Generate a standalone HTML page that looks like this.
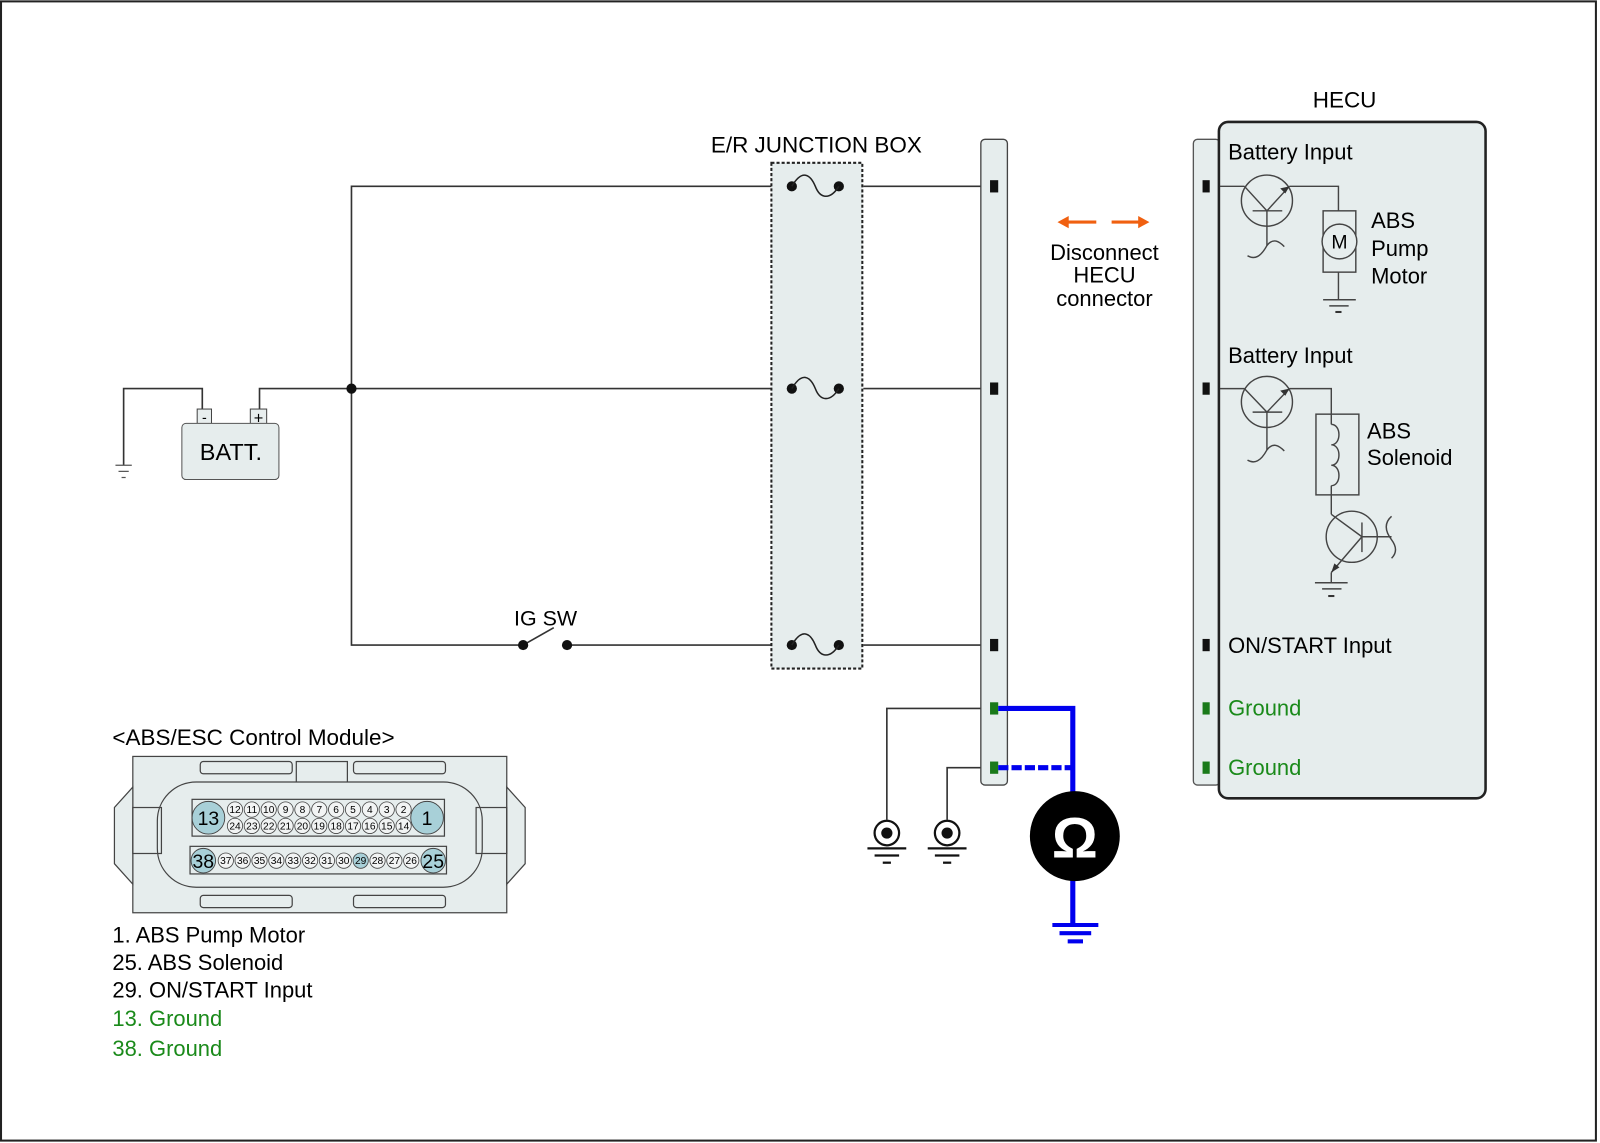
<!DOCTYPE html>
<html><head><meta charset="utf-8"><style>html,body{margin:0;padding:0;background:#fff}svg{display:block}text{font-family:"Liberation Sans",Arial,sans-serif}</style></head><body>
<svg width="1600" height="1143" viewBox="0 0 1566 1118" xmlns="http://www.w3.org/2000/svg">
<rect x="1" y="1" width="1561" height="1115" fill="#fff" stroke="#222" stroke-width="2"/>
<g stroke="#333" stroke-width="1.6" fill="none">
<polyline points="970,182 845,182"/><polyline points="755,182 344,182 344,631 510,631"/>
<polyline points="970,380 845,380"/><polyline points="755,380 254,380 254,400"/>
<polyline points="198,400 198,380 121,380 121,455"/>
<polyline points="555,631 755,631"/><polyline points="845,631 970,631"/>
<line x1="512" y1="631" x2="542" y2="614"/>
<polyline points="970,693 868,693 868,802"/><polyline points="970,751 927,751 927,802"/>
</g>
<g stroke="#555" stroke-width="1.2"><line x1="113" y1="455" x2="129" y2="455"/><line x1="116" y1="461" x2="126" y2="461"/><line x1="119" y1="467" x2="123" y2="467"/></g>
<rect x="193" y="400" width="14" height="15" fill="#e8eeee" stroke="#444"/>
<rect x="245" y="400" width="16" height="15" fill="#e8eeee" stroke="#444"/>
<text x="200" y="413" font-size="14" text-anchor="middle">-</text><text x="253" y="414" font-size="16" text-anchor="middle">+</text>
<rect x="178" y="414" width="95" height="55" rx="4" fill="#e6eded" stroke="#555"/>
<text x="226" y="450" font-size="23" text-anchor="middle">BATT.</text>
<circle cx="344" cy="380" r="5" fill="#111"/>
<circle cx="512" cy="631" r="5" fill="#111"/><circle cx="555" cy="631" r="5" fill="#111"/>
<text x="534" y="612" font-size="21" text-anchor="middle">IG SW</text>
<rect x="755" y="159" width="89" height="495" fill="#e6eded" stroke="#222" stroke-width="2" stroke-dasharray="3,2"/>
<text x="799" y="149" font-size="22" text-anchor="middle">E/R JUNCTION BOX</text>
<g fill="#111">
<circle cx="775" cy="182" r="5"/><circle cx="821" cy="182" r="5"/>
<circle cx="775" cy="380" r="5"/><circle cx="821" cy="380" r="5"/>
<circle cx="775" cy="631" r="5"/><circle cx="821" cy="631" r="5"/></g>
<g stroke="#222" stroke-width="1.5" fill="none">
<path d="M775,182 C785,165 793,170 798,182 C803,195 813,195 821,182"/>
<path d="M775,380 C785,363 793,368 798,380 C803,393 813,393 821,380"/>
<path d="M775,631 C785,614 793,619 798,631 C803,644 813,644 821,631"/>
</g>
<rect x="960" y="136" width="26" height="632" rx="4" fill="#e6eded" stroke="#444" stroke-width="1.3"/>
<g fill="#111"><rect x="969" y="176" width="8" height="12"/><rect x="969" y="374" width="8" height="12"/><rect x="969" y="625" width="8" height="12"/></g>
<g fill="#1a7a1a"><rect x="969" y="687" width="8" height="12"/><rect x="969" y="745" width="8" height="12"/></g>
<g stroke="#111" stroke-width="2.2"><circle cx="868" cy="815" r="12" fill="#fff"/><circle cx="927" cy="815" r="12" fill="#fff"/>
<line x1="849" y1="830" x2="887" y2="830"/><line x1="856" y1="837" x2="880" y2="837"/><line x1="864" y1="844" x2="872" y2="844"/>
<line x1="908" y1="830" x2="946" y2="830"/><line x1="915" y1="837" x2="939" y2="837"/><line x1="923" y1="844" x2="931" y2="844"/></g>
<circle cx="868" cy="815" r="5.5" fill="#111"/><circle cx="927" cy="815" r="5.5" fill="#111"/>
<g stroke="#0000ee" stroke-width="5" fill="none"><polyline points="977,693 1050,693 1050,790"/>
<line x1="977" y1="751" x2="1050" y2="751" stroke-dasharray="10,3"/><line x1="1050" y1="840" x2="1050" y2="905"/>
<line x1="1030" y1="905" x2="1075" y2="905" stroke-width="4"/><line x1="1037" y1="913" x2="1068" y2="913" stroke-width="4"/><line x1="1045" y1="921" x2="1060" y2="921" stroke-width="4"/></g>
<circle cx="1052" cy="818" r="44" fill="#000"/>
<text x="1052" y="839" font-size="56" font-weight="bold" fill="#fff" text-anchor="middle">Ω</text>
<g stroke="#f06010" stroke-width="3"><line x1="1042" y1="217" x2="1073" y2="217"/><line x1="1088" y1="217" x2="1118" y2="217"/></g>
<path d="M1035,217 L1046,211 L1046,223Z M1125,217 L1114,211 L1114,223Z" fill="#f06010"/>
<text font-size="21.5" text-anchor="middle"><tspan x="1081" y="254">Disconnect</tspan><tspan x="1081" y="276">HECU</tspan><tspan x="1081" y="299">connector</tspan></text>
<text x="1316" y="105" font-size="22" text-anchor="middle">HECU</text>
<rect x="1168" y="136" width="26" height="632" rx="4" fill="#e6eded" stroke="#555" stroke-width="1.3"/>
<rect x="1193" y="119" width="261" height="662" rx="9" fill="#e6eded" stroke="#222" stroke-width="2.5"/>
<g fill="#111"><rect x="1177" y="176" width="7" height="12"/><rect x="1177" y="374" width="7" height="12"/><rect x="1177" y="625" width="7" height="12"/></g>
<g fill="#1a7a1a"><rect x="1177" y="687" width="7" height="12"/><rect x="1177" y="745" width="7" height="12"/></g>
<g stroke="#444" stroke-width="1.4" fill="none">
<polyline points="1194,182 1218,182"/><polyline points="1262,182 1310,182 1310,206"/>
<circle cx="1240" cy="196" r="25"/><line x1="1226" y1="206" x2="1255" y2="206"/>
<line x1="1240" y1="206" x2="1218" y2="182"/><line x1="1240" y1="206" x2="1262" y2="182"/><line x1="1240" y1="206" x2="1240" y2="240"/>
<path d="M1221,250 C1228,254 1234,251 1240,240 C1246,232 1252,236 1257,241"/>
<rect x="1295" y="206" width="32" height="60"/><circle cx="1311" cy="236" r="17" fill="#e6eded"/>
<line x1="1310" y1="266" x2="1310" y2="293"/><line x1="1295" y1="293" x2="1327" y2="293"/><line x1="1301" y1="299" x2="1320" y2="299"/>
<polyline points="1194,380 1218,380"/><polyline points="1262,380 1303,380 1303,405"/>
<circle cx="1240" cy="393" r="25"/><line x1="1226" y1="403" x2="1255" y2="403"/>
<line x1="1240" y1="403" x2="1218" y2="380"/><line x1="1240" y1="403" x2="1262" y2="380"/><line x1="1240" y1="403" x2="1240" y2="440"/>
<path d="M1221,450 C1228,454 1234,451 1240,440 C1246,432 1252,436 1257,441"/>
<rect x="1288" y="405" width="42" height="79"/>
<path d="M1303,415 C1313,415 1313,435 1303,435 C1313,435 1313,455 1303,455 C1313,455 1313,475 1303,475"/>
<line x1="1303" y1="405" x2="1303" y2="415"/><line x1="1303" y1="475" x2="1303" y2="503"/>
<circle cx="1323" cy="525" r="25"/><line x1="1333" y1="511" x2="1333" y2="540"/>
<line x1="1303" y1="503" x2="1333" y2="525"/><line x1="1333" y1="525" x2="1303" y2="560"/><line x1="1333" y1="525" x2="1362" y2="525"/>
<path d="M1362,505 C1354,512 1356,520 1362,528 C1368,536 1366,542 1362,546"/>
<line x1="1303" y1="560" x2="1303" y2="570"/><line x1="1287" y1="570" x2="1319" y2="570"/><line x1="1294" y1="576" x2="1313" y2="576"/>
</g>
<g fill="#333"><path d="M1262,182 l-9,2 l5,5Z"/><path d="M1262,380 l-9,2 l5,5Z"/><path d="M1303,560 l3,-9 l5,4Z"/><rect x="1307" y="304" width="6" height="2"/><rect x="1300" y="582" width="6" height="2"/></g>
<text x="1311" y="243" font-size="19" text-anchor="middle">M</text>
<g font-size="21.5"><text x="1202" y="156">Battery Input</text><text x="1202" y="355">Battery Input</text>
<text x="1202" y="639">ON/START Input</text><text x="1202" y="700" fill="#1a8a1a">Ground</text><text x="1202" y="758" fill="#1a8a1a">Ground</text>
<text x="1342" y="223">ABS</text><text x="1342" y="250">Pump</text><text x="1342" y="277">Motor</text>
<text x="1338" y="429">ABS</text><text x="1338" y="455">Solenoid</text></g>
<text x="110" y="729" font-size="22">&lt;ABS/ESC Control Module&gt;</text>
<g stroke="#444" stroke-width="1.2" fill="#e6eded">
<rect x="130" y="740" width="366" height="153"/>
<path d="M130,770 L112,790 L112,845 L130,865Z"/><path d="M496,770 L514,790 L514,845 L496,865Z"/>
<rect x="196" y="745" width="90" height="12" rx="3"/><rect x="346" y="745" width="90" height="12" rx="3"/>
<rect x="290" y="745" width="50" height="22"/><rect x="196" y="876" width="90" height="12" rx="3"/><rect x="346" y="876" width="90" height="12" rx="3"/>
<rect x="154" y="765" width="318" height="103" rx="38"/>
<rect x="188" y="782" width="247" height="36" fill="#e6eded"/>
<rect x="186" y="828" width="251" height="27" fill="#e6eded"/>
<rect x="130" y="790" width="28" height="45" fill="none"/><rect x="466" y="790" width="30" height="45" fill="none"/>
</g>
<g stroke="#444" stroke-width="0.9" fill="#eef2f2">
<circle cx="204" cy="800" r="16" fill="#a8d0d8"/><circle cx="418" cy="800" r="16" fill="#a8d0d8"/>
<circle cx="199" cy="842" r="12" fill="#a8d0d8"/><circle cx="424" cy="842" r="12" fill="#a8d0d8"/>
</g>
<g font-size="19" text-anchor="middle"><text x="204" y="807">13</text><text x="418" y="807">1</text><text x="199" y="849">38</text><text x="424" y="849">25</text></g>
<g stroke="#444" stroke-width="0.8" fill="#f2f4f4">
<circle cx="230" cy="792" r="7.5"/><circle cx="246.5" cy="792" r="7.5"/><circle cx="263" cy="792" r="7.5"/><circle cx="279.5" cy="792" r="7.5"/><circle cx="296" cy="792" r="7.5"/><circle cx="312.5" cy="792" r="7.5"/><circle cx="329" cy="792" r="7.5"/><circle cx="345.5" cy="792" r="7.5"/><circle cx="362" cy="792" r="7.5"/><circle cx="378.5" cy="792" r="7.5"/><circle cx="395" cy="792" r="7.5"/>
<circle cx="230" cy="808" r="7.5"/><circle cx="246.5" cy="808" r="7.5"/><circle cx="263" cy="808" r="7.5"/><circle cx="279.5" cy="808" r="7.5"/><circle cx="296" cy="808" r="7.5"/><circle cx="312.5" cy="808" r="7.5"/><circle cx="329" cy="808" r="7.5"/><circle cx="345.5" cy="808" r="7.5"/><circle cx="362" cy="808" r="7.5"/><circle cx="378.5" cy="808" r="7.5"/><circle cx="395" cy="808" r="7.5"/>
<circle cx="221" cy="842" r="7.5"/><circle cx="237.5" cy="842" r="7.5"/><circle cx="254" cy="842" r="7.5"/><circle cx="270.5" cy="842" r="7.5"/><circle cx="287" cy="842" r="7.5"/><circle cx="303.5" cy="842" r="7.5"/><circle cx="320" cy="842" r="7.5"/><circle cx="336.5" cy="842" r="7.5"/><circle cx="353" cy="842" r="7.5" fill="#a8d0d8"/><circle cx="369.5" cy="842" r="7.5"/><circle cx="386" cy="842" r="7.5"/><circle cx="402.5" cy="842" r="7.5"/>
</g>
<g font-size="10" text-anchor="middle">
<text x="230" y="795.5">12</text><text x="246.5" y="795.5">11</text><text x="263" y="795.5">10</text><text x="279.5" y="795.5">9</text><text x="296" y="795.5">8</text><text x="312.5" y="795.5">7</text><text x="329" y="795.5">6</text><text x="345.5" y="795.5">5</text><text x="362" y="795.5">4</text><text x="378.5" y="795.5">3</text><text x="395" y="795.5">2</text>
<text x="230" y="811.5">24</text><text x="246.5" y="811.5">23</text><text x="263" y="811.5">22</text><text x="279.5" y="811.5">21</text><text x="296" y="811.5">20</text><text x="312.5" y="811.5">19</text><text x="329" y="811.5">18</text><text x="345.5" y="811.5">17</text><text x="362" y="811.5">16</text><text x="378.5" y="811.5">15</text><text x="395" y="811.5">14</text>
<text x="221" y="845.5">37</text><text x="237.5" y="845.5">36</text><text x="254" y="845.5">35</text><text x="270.5" y="845.5">34</text><text x="287" y="845.5">33</text><text x="303.5" y="845.5">32</text><text x="320" y="845.5">31</text><text x="336.5" y="845.5">30</text><text x="353" y="845.5">29</text><text x="369.5" y="845.5">28</text><text x="386" y="845.5">27</text><text x="402.5" y="845.5">26</text>
</g>
<g font-size="21.5"><text x="110" y="922">1. ABS Pump Motor</text><text x="110" y="949">25. ABS Solenoid</text><text x="110" y="976">29. ON/START Input</text>
<text x="110" y="1004" fill="#1a8a1a">13. Ground</text><text x="110" y="1033" fill="#1a8a1a">38. Ground</text></g>
</svg>
</body></html>
